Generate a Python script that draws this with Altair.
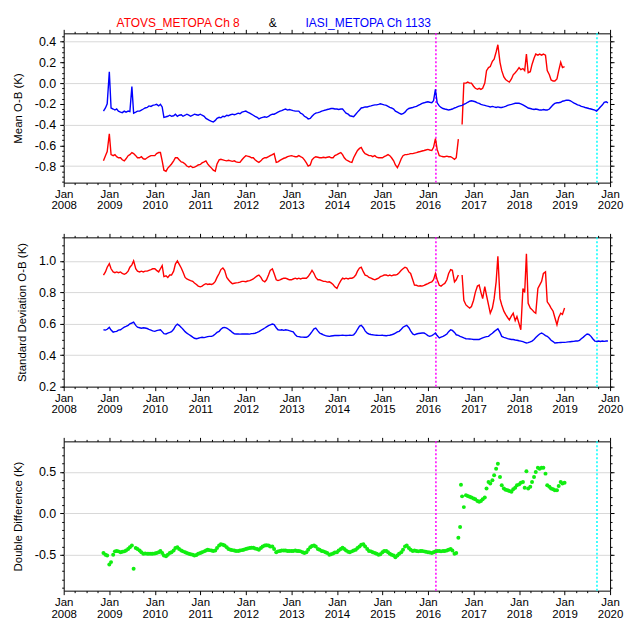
import altair as alt
import pandas as pd

# ---------------------------------------------------------------- data
# All series are sampled on a semi-monthly grid (1st and 15th of each month)
# starting on SERIES_START; None marks a gap in the record.
SERIES_START = "2008-11-15"

title_parts = ["ATOVS_METOPA Ch 8", "&", "IASI_METOPA Ch 1133"]
panel_titles = ["Mean O-B (K)", "Standard Deviation O-B (K)", "Double Difference (K)"]
event_dates = ["2016-03-05", "2019-09-18"]

iasi_mean = [
    -0.27, -0.24, -0.20,
    0.11, -0.24, -0.25, -0.26, -0.25, -0.27, -0.28, -0.285, -0.27, -0.28, -0.27, -0.275, -0.034, -0.29, -0.28, -0.27, -0.27, -0.26, -0.25, -0.24, -0.235, -0.22, -0.225, -0.215,
    -0.21, -0.205, -0.22, -0.205, -0.23, -0.33, -0.325, -0.32, -0.31, -0.32, -0.315, -0.30, -0.32, -0.31, -0.305, -0.32, -0.31, -0.30, -0.31, -0.32, -0.31, -0.30, -0.305, -0.31,
    -0.30, -0.31, -0.32, -0.34, -0.35, -0.36, -0.37, -0.375, -0.36, -0.34, -0.33, -0.335, -0.32, -0.325, -0.31, -0.315, -0.305, -0.30, -0.305, -0.30, -0.29, -0.295, -0.28, -0.275,
    -0.27, -0.28, -0.29, -0.30, -0.31, -0.32, -0.33, -0.345, -0.335, -0.33, -0.325, -0.33, -0.32, -0.31, -0.30, -0.30, -0.29, -0.28, -0.27, -0.265, -0.255, -0.25, -0.26, -0.255,
    -0.26, -0.265, -0.27, -0.27, -0.27, -0.29, -0.30, -0.32, -0.33, -0.345, -0.34, -0.32, -0.30, -0.29, -0.285, -0.28, -0.27, -0.265, -0.26, -0.255, -0.25, -0.245, -0.245, -0.25,
    -0.25, -0.255, -0.25, -0.25, -0.27, -0.29, -0.30, -0.315, -0.32, -0.325, -0.30, -0.28, -0.26, -0.24, -0.235, -0.23, -0.23, -0.225, -0.22, -0.215, -0.21, -0.21, -0.205, -0.20,
    -0.205, -0.21, -0.215, -0.225, -0.235, -0.24, -0.25, -0.27, -0.28, -0.29, -0.30, -0.295, -0.28, -0.26, -0.245, -0.24, -0.235, -0.23, -0.225, -0.215, -0.205, -0.195, -0.19, -0.185,
    -0.18, -0.185, -0.19, -0.17, -0.06, -0.19, -0.22, -0.235, -0.245, -0.25, -0.255, -0.26, -0.255, -0.25, -0.24, -0.235, -0.225, -0.22, -0.215, -0.205, -0.195, -0.185, -0.175, -0.17,
    -0.175, -0.18, -0.19, -0.195, -0.205, -0.21, -0.215, -0.22, -0.225, -0.23, -0.225, -0.23, -0.235, -0.23, -0.235, -0.235, -0.23, -0.225, -0.215, -0.21, -0.205, -0.20, -0.195, -0.195,
    -0.195, -0.20, -0.21, -0.22, -0.23, -0.24, -0.245, -0.25, -0.255, -0.25, -0.255, -0.26, -0.26, -0.255, -0.26, -0.26, -0.25, -0.23, -0.21, -0.195, -0.19, -0.19, -0.185, -0.175,
    -0.17, -0.165, -0.165, -0.17, -0.18, -0.19, -0.20, -0.21, -0.215, -0.225, -0.23, -0.235, -0.24, -0.245, -0.25, -0.255, -0.26, -0.27, -0.25, -0.23, -0.21, -0.185, -0.18, -0.19,
]

atovs_mean = [
    -0.75, -0.70, -0.66,
    -0.49, -0.69, -0.70, -0.69, -0.71, -0.72, -0.72, -0.74, -0.75, -0.73, -0.70, -0.69, -0.67, -0.68, -0.70, -0.72, -0.72, -0.71, -0.73, -0.735, -0.72, -0.71, -0.70, -0.70,
    -0.70, -0.68, -0.67, -0.67, -0.75, -0.84, -0.85, -0.82, -0.80, -0.78, -0.75, -0.72, -0.72, -0.74, -0.76, -0.765, -0.78, -0.80, -0.81, -0.80, -0.815, -0.81, -0.80, -0.79,
    -0.785, -0.77, -0.76, -0.75, -0.78, -0.80, -0.82, -0.84, -0.85, -0.78, -0.74, -0.735, -0.74, -0.745, -0.75, -0.745, -0.75, -0.755, -0.75, -0.76, -0.765, -0.765, -0.74, -0.72,
    -0.70, -0.705, -0.71, -0.72, -0.72, -0.74, -0.755, -0.765, -0.75, -0.73, -0.72, -0.72, -0.71, -0.70, -0.69, -0.68, -0.765, -0.76, -0.745, -0.735, -0.725, -0.72, -0.71, -0.705,
    -0.70, -0.705, -0.71, -0.71, -0.70, -0.71, -0.72, -0.74, -0.77, -0.80, -0.79, -0.74, -0.72, -0.71, -0.715, -0.72, -0.72, -0.715, -0.72, -0.715, -0.71, -0.72, -0.72, -0.70,
    -0.69, -0.68, -0.67, -0.69, -0.72, -0.74, -0.75, -0.76, -0.765, -0.72, -0.68, -0.65, -0.63, -0.62, -0.66, -0.68, -0.69, -0.70, -0.70, -0.71, -0.70, -0.715, -0.72, -0.72,
    -0.72, -0.71, -0.70, -0.69, -0.70, -0.72, -0.75, -0.79, -0.815, -0.78, -0.73, -0.70, -0.69, -0.69, -0.685, -0.68, -0.68, -0.675, -0.67, -0.665, -0.66, -0.655, -0.65, -0.645,
    -0.64, -0.645, -0.65, -0.62, -0.535, -0.64, -0.70, -0.705, -0.71, -0.71, -0.705, -0.71, -0.71, -0.72, -0.735, -0.72, -0.54, None, -0.40, 0.0, 0.0, 0.01, 0.0, 0.0,
    -0.03, -0.05, -0.06, -0.05, -0.06, -0.05, 0.0, 0.12, 0.15, 0.16, 0.21, 0.23, 0.30, 0.37, 0.20, 0.12, 0.06, 0.035, 0.02, 0.01, 0.04, 0.08, 0.10, 0.12,
    0.15, 0.13, 0.14, 0.12, 0.28, 0.10, 0.11, 0.18, 0.24, 0.28, 0.27, 0.28, 0.27, 0.28, 0.27, 0.12, 0.08, 0.03, 0.02, 0.02, 0.04, 0.12, 0.20, 0.15,
    0.16,
]

iasi_std = [
    0.562, 0.56, 0.565,
    0.577, 0.56, 0.547, 0.55, 0.552, 0.56, 0.562, 0.57, 0.578, 0.583, 0.59, 0.60, 0.605, 0.61, 0.59, 0.578, 0.575, 0.572, 0.575, 0.573, 0.57, 0.565, 0.56, 0.555,
    0.552, 0.556, 0.56, 0.562, 0.55, 0.537, 0.535, 0.54, 0.545, 0.55, 0.565, 0.585, 0.598, 0.59, 0.577, 0.565, 0.55, 0.54, 0.532, 0.525, 0.515, 0.508, 0.505, 0.508,
    0.512, 0.514, 0.512, 0.515, 0.518, 0.52, 0.52, 0.525, 0.535, 0.545, 0.552, 0.565, 0.575, 0.577, 0.572, 0.565, 0.555, 0.545, 0.536, 0.535, 0.536, 0.534, 0.535, 0.535,
    0.535, 0.536, 0.534, 0.537, 0.538, 0.54, 0.545, 0.55, 0.558, 0.565, 0.573, 0.58, 0.588, 0.593, 0.598, 0.595, 0.575, 0.562, 0.56, 0.562, 0.558, 0.562, 0.56, 0.556,
    0.552, 0.548, 0.53, 0.52, 0.518, 0.516, 0.515, 0.514, 0.514, 0.52, 0.535, 0.55, 0.568, 0.573, 0.555, 0.541, 0.535, 0.53, 0.525, 0.522, 0.52, 0.522, 0.524, 0.525,
    0.526, 0.525, 0.526, 0.527, 0.526, 0.525, 0.526, 0.527, 0.526, 0.53, 0.545, 0.565, 0.585, 0.59, 0.575, 0.555, 0.54, 0.535, 0.532, 0.53, 0.528, 0.527, 0.526, 0.526,
    0.527, 0.525, 0.524, 0.526, 0.527, 0.53, 0.535, 0.54, 0.548, 0.552, 0.565, 0.578, 0.585, 0.59, 0.575, 0.555, 0.535, 0.53, 0.535, 0.538, 0.54, 0.541, 0.541, 0.535,
    0.525, 0.52, 0.525, 0.532, 0.541, 0.525, 0.51, 0.515, 0.52, 0.526, 0.535, 0.55, 0.562, 0.558, 0.545, 0.53, 0.526, 0.52, 0.515, 0.51, 0.505, 0.504, 0.503, 0.502,
    0.50, 0.501, 0.50, 0.50, 0.505, 0.51, 0.515, 0.518, 0.52, 0.53, 0.54, 0.55, 0.56, 0.568, 0.545, 0.52, 0.514, 0.51, 0.506, 0.503, 0.50, 0.50, 0.497, 0.495,
    0.492, 0.49, 0.486, 0.482, 0.478, 0.48, 0.485, 0.49, 0.50, 0.512, 0.525, 0.535, 0.541, 0.535, 0.525, 0.52, 0.508, 0.495, 0.487, 0.478, 0.479, 0.48, 0.481, 0.482,
    0.482, 0.483, 0.485, 0.486, 0.487, 0.488, 0.49, 0.49, 0.495, 0.505, 0.515, 0.525, 0.535, 0.532, 0.52, 0.505, 0.49, 0.488, 0.49, 0.487, 0.49, 0.488, 0.49, 0.49,
]

atovs_std = [
    0.91, 0.93, 0.96,
    0.983, 0.95, 0.93, 0.925, 0.93, 0.925, 0.93, 0.92, 0.915, 0.92, 0.935, 0.96, 0.975, 1.0, 0.95, 0.935, 0.93, 0.935, 0.93, 0.935, 0.935, 0.94, 0.945, 0.95,
    0.95, 0.94, 0.93, 0.95, 0.97, 0.90, 0.905, 0.895, 0.91, 0.91, 0.935, 0.98, 1.0, 0.98, 0.955, 0.93, 0.895, 0.885, 0.88, 0.875, 0.87, 0.86, 0.85, 0.84,
    0.835, 0.84, 0.85, 0.855, 0.85, 0.853, 0.85, 0.855, 0.87, 0.895, 0.92, 0.945, 0.955, 0.94, 0.895, 0.88, 0.865, 0.855, 0.858, 0.86, 0.862, 0.865, 0.87, 0.87,
    0.868, 0.872, 0.875, 0.88, 0.885, 0.895, 0.905, 0.91, 0.895, 0.875, 0.867, 0.88, 0.91, 0.94, 0.95, 0.92, 0.88, 0.875, 0.88, 0.885, 0.89, 0.89, 0.885, 0.88,
    0.88, 0.885, 0.89, 0.885, 0.89, 0.885, 0.89, 0.89, 0.89, 0.90, 0.92, 0.94, 0.92, 0.895, 0.88, 0.88, 0.875, 0.87, 0.87, 0.865, 0.867, 0.86, 0.85, 0.835,
    0.825, 0.85, 0.875, 0.89, 0.885, 0.89, 0.885, 0.89, 0.89, 0.895, 0.91, 0.935, 0.955, 0.96, 0.93, 0.91, 0.905, 0.895, 0.89, 0.885, 0.88, 0.885, 0.89, 0.90,
    0.905, 0.91, 0.91, 0.905, 0.91, 0.905, 0.91, 0.91, 0.915, 0.925, 0.94, 0.95, 0.96, 0.955, 0.93, 0.92, 0.88, 0.846, 0.845, 0.84, 0.842, 0.84, 0.845, 0.85,
    0.855, 0.862, 0.867, 0.88, 0.92, 0.88, 0.845, 0.84, 0.85, 0.857, 0.88, 0.92, 0.945, 0.94, 0.867, 0.88, 0.91, None, 0.91, 0.75, 0.72, 0.71, 0.70, 0.71,
    0.75, 0.80, 0.84, 0.846, 0.80, 0.76, 0.836, 0.78, 0.72, 0.667, 0.70, 0.76, 0.867, 1.03, 0.76, 0.72, 0.68, 0.66, 0.64, 0.625, 0.65, 0.667, 0.62, 0.646,
    0.60, 0.562, 0.825, 0.80, 1.045, 0.73, 0.70, 0.69, 0.675, 0.667, 0.825, 0.846, 0.87, 0.92, 0.93, 0.74, 0.72, 0.70, 0.68, 0.64, 0.594, 0.64, 0.667, 0.66,
    0.70,
]

double_diff = [
    -0.48, -0.50, -0.51,
    -0.62, -0.59, -0.50, -0.46, -0.455, -0.46, -0.47, -0.465, -0.46, -0.45, -0.43, -0.41, -0.39, -0.67, -0.42, -0.43, -0.45, -0.47, -0.49, -0.485, -0.49, -0.49, -0.49, -0.49,
    -0.485, -0.48, -0.47, -0.455, -0.48, -0.51, -0.52, -0.50, -0.48, -0.47, -0.45, -0.42, -0.41, -0.43, -0.45, -0.46, -0.47, -0.48, -0.49, -0.495, -0.50, -0.51, -0.505, -0.49,
    -0.48, -0.47, -0.46, -0.45, -0.44, -0.445, -0.45, -0.455, -0.45, -0.42, -0.39, -0.375, -0.38, -0.39, -0.41, -0.43, -0.44, -0.445, -0.45, -0.455, -0.455, -0.45, -0.445, -0.44,
    -0.43, -0.425, -0.42, -0.415, -0.415, -0.425, -0.43, -0.44, -0.42, -0.40, -0.39, -0.385, -0.39, -0.40, -0.40, -0.43, -0.47, -0.46, -0.455, -0.45, -0.45, -0.45, -0.455, -0.455,
    -0.455, -0.455, -0.45, -0.455, -0.455, -0.46, -0.47, -0.48, -0.47, -0.44, -0.41, -0.395, -0.39, -0.40, -0.43, -0.44, -0.455, -0.46, -0.47, -0.48, -0.50, -0.495, -0.485, -0.475,
    -0.47, -0.45, -0.43, -0.415, -0.43, -0.45, -0.465, -0.47, -0.46, -0.45, -0.44, -0.42, -0.40, -0.38, -0.375, -0.40, -0.43, -0.455, -0.46, -0.47, -0.48, -0.49, -0.50, -0.495,
    -0.47, -0.455, -0.455, -0.47, -0.49, -0.50, -0.51, -0.53, -0.51, -0.49, -0.47, -0.44, -0.40, -0.39, -0.42, -0.44, -0.455, -0.45, -0.455, -0.46, -0.455, -0.455, -0.46, -0.465,
    -0.47, -0.475, -0.48, -0.47, -0.46, -0.455, -0.455, -0.46, -0.455, -0.455, -0.45, -0.44, -0.43, -0.45, -0.49, -0.48, -0.295, -0.165, 0.205, 0.075, 0.22, 0.21, 0.20, 0.19,
    0.18, 0.17, 0.15, 0.14, 0.15, 0.17, 0.19, 0.30, 0.38, 0.36, 0.40, 0.46, 0.54, 0.60, 0.44, 0.34, 0.30, 0.285, 0.28, 0.27, 0.26, 0.29, 0.31, 0.34,
    0.35, 0.37, 0.38, 0.31, 0.51, 0.30, 0.32, 0.38, 0.44, 0.50, 0.55, 0.54, 0.55, 0.55, 0.48, 0.34, 0.32, 0.30, 0.29, 0.28, 0.28, 0.33, 0.38, 0.36,
    0.37,
]
dd_extra_dates = ["2016-09-22"]
dd_extra_values = [0.345]


def long_frame(values, name):
    dates = pd.date_range(SERIES_START, periods=len(values), freq="SMS")
    rows, seg = [], 0
    for d, v in zip(dates, values):
        if v is None:
            seg += 1
            continue
        rows.append({"date": d.strftime("%Y-%m-%d"), "value": v,
                     "series": name, "seg": f"{name}_{seg}"})
    return pd.DataFrame(rows)


mean_df = pd.concat([long_frame(atovs_mean, "ATOVS"), long_frame(iasi_mean, "IASI")])
std_df = pd.concat([long_frame(atovs_std, "ATOVS"), long_frame(iasi_std, "IASI")])
dd_df = pd.concat([
    long_frame(double_diff, "DD"),
    pd.DataFrame({"date": dd_extra_dates, "value": dd_extra_values,
                  "series": "DD", "seg": "DD_x"}),
])

# ---------------------------------------------------------------- styling
FONT = "Liberation Sans"
W, H = 549, 150


def dt(y, m=1, d=1):
    return alt.DateTime(year=y, month=m, date=d, utc=True)


year_ticks = [dt(y) for y in range(2008, 2021)]
quarter_ticks = [dt(y, m) for y in range(2008, 2020) for m in (4, 7, 10)]
xscale = alt.Scale(type="utc", domain=[dt(2008), dt(2020)])


def xaxis(orient, values, size, labels=False):
    kw = dict(orient=orient, values=values, tickSize=size, tickColor="black",
              tickWidth=1, domain=False, grid=False, title=None, labels=labels)
    if labels:
        kw.update(labelExpr="['Jan', utcFormat(datum.value, '%Y')]",
                  labelFont=FONT, labelFontSize=11.5, labelColor="black",
                  labelLineHeight=11.5, labelPadding=2, labelAngle=0,
                  labelFlush=False, labelOverlap=False, labelBound=False)
    return alt.Axis(**kw)


def yaxis(orient, values, size, labels=False, title=None, grid=False, fmt=".1f"):
    kw = dict(orient=orient, values=values, tickSize=size, tickColor="black",
              tickWidth=1, domain=False, grid=grid, labels=labels, ticks=size > 0)
    if grid:
        kw.update(gridColor="#d8d8d8", gridWidth=1)
    if labels:
        kw.update(labelExpr=f"replace(format(datum.value, '{fmt}'), '\u2212', '-')",
                  labelFont=FONT, labelFontSize=12.5, labelColor="black",
                  labelPadding=4, labelFlush=False, labelOverlap=False)
    if title:
        kw.update(title=title, titleFont=FONT, titleFontSize=11.5,
                  titleFontWeight="normal", titleColor="black", titlePadding=11)
    else:
        kw.update(title=None)
    return alt.Axis(**kw)


def frange(a, b, step):
    n = int(round((b - a) / step))
    return [round(a + i * step, 3) for i in range(n + 1)]


def panel(df, data_layer_fn, ydom, ymajor, yminor, ygrid, ytitle, extra=()):
    ysc = alt.Scale(domain=ydom, nice=False, zero=False)

    def enc(xax, yax):
        return dict(x=alt.X("date:T", scale=xscale, axis=xax),
                    y=alt.Y("value:Q", scale=ysc, axis=yax))

    base = alt.Chart(df)
    grid = base.mark_point(opacity=0).encode(
        x=alt.X("date:T", scale=xscale, axis=None),
        y=alt.Y("value:Q", scale=ysc, axis=yaxis("left", ygrid, 0, grid=True)))
    rules = [
        alt.Chart(pd.DataFrame({"date": [event_dates[i]]})).mark_rule(
            color=c, strokeDash=[2, 2], strokeWidth=1.5).encode(
            x=alt.X("date:T", scale=xscale, axis=None))
        for i, c in enumerate(["#ff00ff", "#00ffff"])
    ]
    data = data_layer_fn(base).encode(
        **enc(xaxis("bottom", year_ticks, 4, labels=True),
              yaxis("left", ymajor, 4, labels=True, title=ytitle)))
    minor_lb = base.mark_point(opacity=0).encode(
        **enc(xaxis("bottom", quarter_ticks, 2), yaxis("left", yminor, 2)))
    major_tr = base.mark_point(opacity=0).encode(
        **enc(xaxis("top", year_ticks, 4), yaxis("right", ymajor, 4)))
    minor_tr = base.mark_point(opacity=0).encode(
        **enc(xaxis("top", quarter_ticks, 2), yaxis("right", yminor, 2)))
    layers = [grid] + rules + [data, minor_lb, major_tr, minor_tr] + list(extra)
    return alt.layer(*layers).resolve_axis(x="independent", y="independent").properties(
        width=W, height=H)


line_color = alt.Color("series:N", legend=None,
                       scale=alt.Scale(domain=["ATOVS", "IASI"], range=["#ff0000", "#0000ff"]))


def lines(b):
    return b.mark_line(strokeWidth=1.4).encode(color=line_color, detail="seg:N")


def dots(b):
    return b.mark_circle(size=16, color="#11ee11", opacity=1)


one = pd.DataFrame({"k": [0]})
TITLE_SIZE = 12
title_layers = [
    alt.Chart(one).mark_text(text=title_parts[0], color="#ff0000", font=FONT, fontSize=TITLE_SIZE,
                             baseline="alphabetic", align="center").encode(
        x=alt.value(115), y=alt.value(-6)),
    alt.Chart(one).mark_text(text=title_parts[1], color="black", font=FONT, fontSize=TITLE_SIZE,
                             baseline="alphabetic", align="center").encode(
        x=alt.value(210), y=alt.value(-6)),
    alt.Chart(one).mark_text(text=title_parts[2], color="#0000ff", font=FONT, fontSize=TITLE_SIZE,
                             baseline="alphabetic", align="center").encode(
        x=alt.value(306), y=alt.value(-6)),
]

p1 = panel(mean_df, lines, [-0.96, 0.48], frange(-0.8, 0.4, 0.2), frange(-0.95, 0.45, 0.05),
           [-0.8, -0.4, 0.0, 0.4], panel_titles[0], extra=title_layers)
p2 = panel(std_df, lines, [0.2, 1.15], frange(0.2, 1.0, 0.2), frange(0.2, 1.15, 0.05),
           frange(0.4, 1.0, 0.2), panel_titles[1])
p3 = panel(dd_df, dots, [-0.935, 0.87], [-0.5, 0.0, 0.5], frange(-0.9, 0.8, 0.1),
           [-0.5, 0.0, 0.5], panel_titles[2])

chart = alt.vconcat(p1, p2, p3, spacing=55, bounds="flush").properties(
    padding={"left": 11, "top": 15, "right": 0, "bottom": 0},
    background="white",
).configure_view(stroke="black", strokeWidth=1)

chart.save("out.html", embed_options={"renderer": "svg", "actions": False})
